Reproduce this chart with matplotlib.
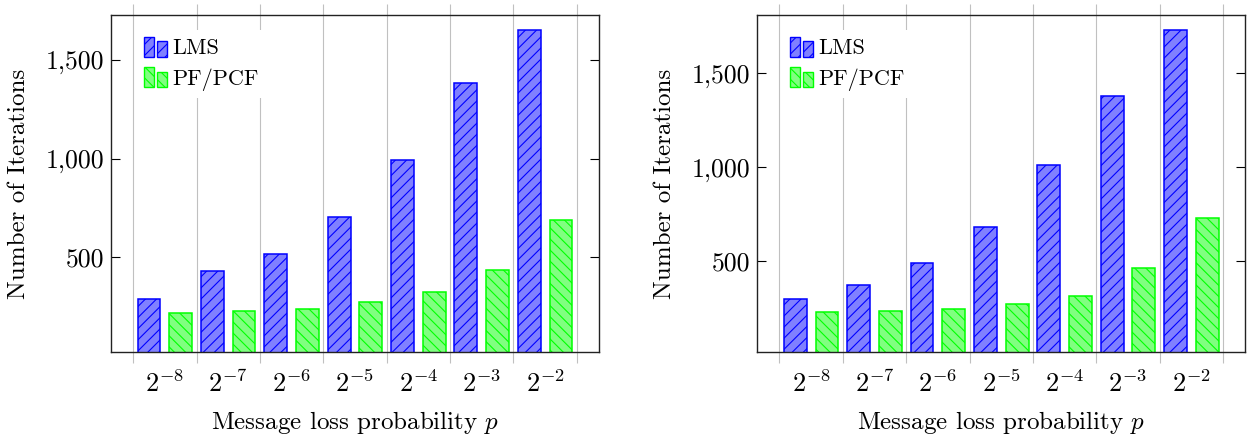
import matplotlib
matplotlib.use("Agg")
import matplotlib.pyplot as plt
import numpy as np
from matplotlib.legend_handler import HandlerBase
from matplotlib.patches import Rectangle

plt.rcParams["font.family"] = "cmr10"
plt.rcParams["mathtext.fontset"] = "cm"
plt.rcParams["axes.formatter.use_mathtext"] = True
plt.rcParams["hatch.linewidth"] = 0.8

probabilities = [r"$2^{-8}$", r"$2^{-7}$", r"$2^{-6}$", r"$2^{-5}$", r"$2^{-4}$", r"$2^{-3}$", r"$2^{-2}$"]

lms_left = [287, 432, 515, 704, 991, 1381, 1652]
pf_left = [217, 227, 238, 272, 324, 436, 689]

lms_right = [296, 372, 488, 680, 1012, 1381, 1733]
pf_right = [226, 232, 242, 272, 313, 461, 727]

y_ticks = [500, 1000, 1500]
y_tick_labels = ["500", "1,000", "1,500"]

BLUE = "#0000ff"
BLUE_FILL = "#8080ff"
GREEN = "#00ff00"
GREEN_FILL = "#80ff80"
HATCH_LMS = "///"
HATCH_PF = "\\\\\\"


class DoubleBarHandler(HandlerBase):
	def __init__(self, face, edge, hatch):
		super().__init__()
		self.face = face
		self.edge = edge
		self.hatch = hatch

	def create_artists(self, legend, orig_handle, xdescent, ydescent, width, height, fontsize, trans):
		w = width * 0.43
		gap = width - 2 * w
		r1 = Rectangle((-xdescent, -ydescent), w, height, facecolor=self.face,
			edgecolor=self.edge, hatch=self.hatch, lw=1.0, transform=trans)
		r2 = Rectangle((-xdescent + w + gap, -ydescent), w, height * 0.78, facecolor=self.face,
			edgecolor=self.edge, hatch=self.hatch, lw=1.0, transform=trans)
		return [r1, r2]


def draw_panel(ax, lms, pf, ylim):
	x = np.arange(len(probabilities))
	bar_w = 0.36
	b1 = ax.bar(x - 0.25, lms, width=bar_w, bottom=0, color=BLUE_FILL, edgecolor=BLUE,
		hatch=HATCH_LMS, linewidth=1.1, zorder=3, label="LMS")
	b2 = ax.bar(x + 0.25, pf, width=bar_w, bottom=0, color=GREEN_FILL, edgecolor=GREEN,
		hatch=HATCH_PF, linewidth=1.1, zorder=3, label="PF/PCF")

	ax.set_xlim(-0.85, len(x) - 0.15)
	ax.set_ylim(*ylim)

	ax.set_xticks(x)
	ax.set_xticklabels(probabilities, fontsize=19)
	ax.set_xticks(np.arange(len(x) + 1) - 0.5, minor=True)
	ax.tick_params(axis="x", which="major", length=0, pad=13)
	ax.tick_params(axis="x", which="minor", direction="out", length=8, width=0.8,
		color="#c0c0c0", top=True, bottom=True)
	ax.grid(True, axis="x", which="minor", color="#c0c0c0", linewidth=0.8, zorder=0)

	ax.set_yticks(y_ticks)
	ax.set_yticklabels(y_tick_labels, fontsize=18.5)
	ax.tick_params(axis="y", direction="in", length=6.5, width=0.8, left=True, right=True, pad=5)

	for spine in ax.spines.values():
		spine.set_color("#222222")
		spine.set_linewidth(1.0)
		spine.set_zorder(4)

	ax.set_xlabel(r"Message loss probability $p$", fontsize=18, labelpad=9)
	ax.set_ylabel("Number of Iterations", fontsize=18, labelpad=11)

	leg = ax.legend(
		[b1, b2], ["LMS", "PF/PCF"],
		handler_map={
			b1: DoubleBarHandler(BLUE_FILL, BLUE, HATCH_LMS),
			b2: DoubleBarHandler(GREEN_FILL, GREEN, HATCH_PF),
		},
		loc="upper left", bbox_to_anchor=(0.053, 0.955), borderaxespad=0, borderpad=0.3,
		handlelength=1.05, handleheight=1.0, handletextpad=0.25, labelspacing=0.4,
		fontsize=16, frameon=True, fancybox=False,
	)
	leg.get_frame().set_facecolor("white")
	leg.get_frame().set_edgecolor("none")
	leg.get_frame().set_alpha(1.0)
	leg.set_zorder(5)


fig = plt.figure(figsize=(12.47, 4.34), dpi=100)
ax1 = fig.add_axes([0.0890, 0.1889, 0.3913, 0.7765])
ax2 = fig.add_axes([0.6073, 0.1889, 0.3913, 0.7765])

draw_panel(ax1, lms_left, pf_left, (21, 1726))
draw_panel(ax2, lms_right, pf_right, (15, 1811))

fig.savefig("out.png", dpi=100)
